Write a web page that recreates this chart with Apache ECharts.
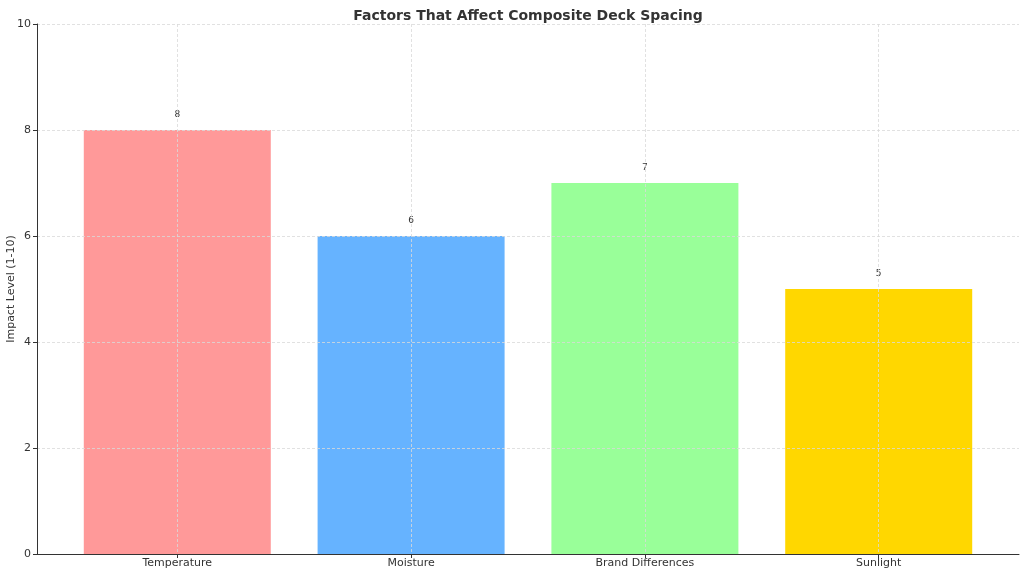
<!DOCTYPE html>
<html>
<head>
<meta charset="utf-8">
<script src="https://cdn.jsdelivr.net/npm/echarts@6/dist/echarts.min.js"></script>
<style>
  html, body { margin: 0; padding: 0; background: #fff; }
  #chart { width: 1024px; height: 576px; }
</style>
</head>
<body>
<div id="chart"></div>
<script>
// data
var categories = ['Temperature', 'Moisture', 'Brand Differences', 'Sunlight'];
var impact = [8, 6, 7, 5];
var barColors = ['#ff9999', '#66b3ff', '#99ff99', '#ffd700'];
var yTicks = [0, 2, 4, 6, 8, 10];

var positions = categories.map(function (c, i) { return i; });

var chart = echarts.init(document.getElementById('chart'));

var gridLine = { show: true, lineStyle: { color: '#d9d9d9', type: [3, 2], width: 0.8 } };

var option = {
    animation: false,
    textStyle: { fontFamily: 'DejaVu Sans' },
    title: {
        text: 'Factors That Affect Composite Deck Spacing',
        left: 523,
        textAlign: 'center',
        top: 4,
        textStyle: { fontSize: 14, fontWeight: 'bold', color: '#333', fontFamily: 'DejaVu Sans' }
    },
    grid: { left: 37, right: 5, top: 24, bottom: 22, containLabel: false, outerBoundsMode: 'none' },
    xAxis: {
        type: 'value',
        min: -0.6,
        max: 3.6,
        z: 5,
        axisLine: { show: true, onZero: false, lineStyle: { color: '#333', width: 1 } },
        axisTick: { show: true, customValues: positions, length: 4, lineStyle: { color: '#333' } },
        axisLabel: {
            customValues: positions,
            color: '#333',
            fontSize: 11,
            margin: 4,
            formatter: function (v) { return categories[Math.round(v)]; }
        },
        splitLine: gridLine
    },
    yAxis: {
        type: 'value',
        min: 0,
        max: 10,
        interval: 2,
        z: 5,
        name: 'Impact Level (1-10)',
        nameLocation: 'middle',
        nameGap: 20,
        nameMoveOverlap: false,
        nameTextStyle: { color: '#333', fontSize: 11 },
        axisLine: { show: true, onZero: false, lineStyle: { color: '#333', width: 1 } },
        axisTick: { show: true, length: 4, lineStyle: { color: '#333' } },
        axisLabel: {
            color: '#333',
            fontSize: 11,
            margin: 6,
            formatter: function (v) { return yTicks.indexOf(v) >= 0 ? String(v) : ''; }
        },
        splitLine: gridLine
    },
    series: [{
        type: 'bar',
        barWidth: 187,
        data: impact.map(function (v, i) {
            return { value: [positions[i], v], itemStyle: { color: barColors[i] } };
        }),
        label: {
            show: true,
            position: 'top',
            distance: 11,
            color: '#333',
            fontSize: 9,
            formatter: function (p) { return p.value[1]; }
        }
    }]
};

chart.setOption(option);
</script>
</body>
</html>
